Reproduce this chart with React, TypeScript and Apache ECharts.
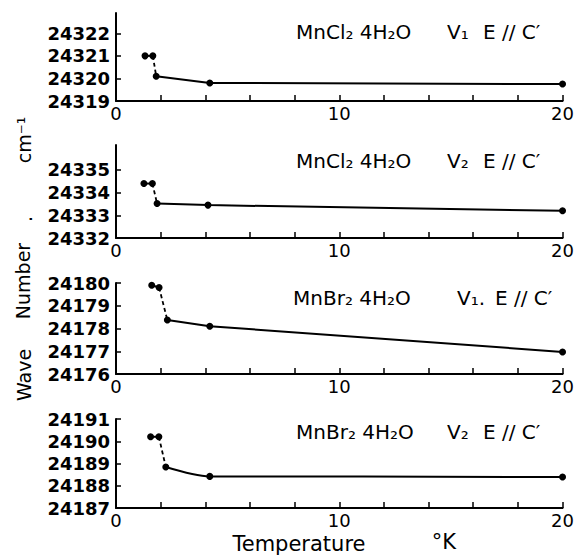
import React, { useEffect, useRef } from "react";
import * as echarts from "echarts";

// Temperatures (°K) and wave numbers (cm⁻¹) for each panel
const temps1 = [1.3, 1.65, 1.8, 4.2, 20];
const wave1 = [24321.0, 24321.0, 24320.1, 24319.8, 24319.75];
const temps2 = [1.25, 1.63, 1.84, 4.12, 20];
const wave2 = [24334.4, 24334.4, 24333.52, 24333.45, 24333.2];
const temps3 = [1.6, 1.93, 2.3, 4.2, 20];
const wave3 = [24179.9, 24179.8, 24178.37, 24178.1, 24176.97];
const temps4 = [1.55, 1.92, 2.23, 4.2, 20];
const wave4 = [24190.2, 24190.2, 24188.84, 24188.42, 24188.39];

const compounds = ["MnCl₂ 4H₂O", "MnCl₂ 4H₂O", "MnBr₂ 4H₂O", "MnBr₂ 4H₂O"];
const lines = ["V₁", "V₂", "V₁.", "V₂"];
const polarisation = "E // C′";

const yLabelValues = [
  [24319, 24320, 24321, 24322],
  [24332, 24333, 24334, 24335],
  [24176, 24177, 24178, 24179, 24180],
  [24187, 24188, 24189, 24190, 24191],
];
const yTickValues = [
  [24320, 24321, 24322],
  [24333, 24334, 24335],
  [24177, 24178, 24179, 24180],
  [24188, 24189, 24190, 24191],
];
const yRanges = [
  [24319, 24322.9],
  [24332, 24336.1],
  [24176, 24180],
  [24187, 24191],
];
const xLabelsShown = [0, 10, 20];

const FONT = "DejaVu Sans";

export default function App() {
  const ref = useRef<HTMLDivElement>(null);
  useEffect(() => {
    if (!ref.current) return;
    const chart = echarts.init(ref.current, undefined, { renderer: "svg" });
    const temps = [temps1, temps2, temps3, temps4];
    const waves = [wave1, wave2, wave3, wave4];
    const titleLayout = [
      { x: 296, y: 32, a: 151, b: 36 },
      { x: 296, y: 161, a: 151, b: 36 },
      { x: 293, y: 298, a: 164, b: 38 },
      { x: 296, y: 432, a: 151, b: 36 },
    ];
    const xAxes: any[] = [];
    const yAxes: any[] = [];
    const series: any[] = [];
    const graphics: any[] = [];
    for (let i = 0; i < 4; i++) {
      xAxes.push({
        type: "value",
        gridIndex: i,
        min: 0,
        max: 20,
        interval: 2,
        axisLine: { show: true, onZero: false, lineStyle: { color: "#000", width: 2 } },
        axisTick: { show: true, inside: true, length: 6, lineStyle: { color: "#000", width: 1.5 } },
        splitLine: { show: false },
        axisLabel: {
          color: "#000",
          fontFamily: FONT,
          fontSize: 18,
          margin: 3,
          formatter: (v: number) => (xLabelsShown.includes(v) ? String(v) : ""),
        },
      });
      yAxes.push({
        type: "value",
        gridIndex: i,
        min: yRanges[i][0],
        max: yRanges[i][1],
        axisLine: { show: true, lineStyle: { color: "#000", width: 2 } },
        axisTick: {
          show: true,
          inside: true,
          length: 5,
          customValues: yTickValues[i],
          lineStyle: { color: "#000", width: 1.5 },
        },
        splitLine: { show: false },
        axisLabel: {
          color: "#000",
          fontFamily: FONT,
          fontWeight: "bold",
          fontSize: 18,
          margin: 6,
          customValues: yLabelValues[i],
          formatter: (v: number) => String(v),
        },
      });
      const t = temps[i];
      const w = waves[i];
      const pts = t.map((x, k) => [x, w[k]]);
      const base = {
        type: "line",
        xAxisIndex: i,
        yAxisIndex: i,
        symbol: "circle",
        symbolSize: 7,
        itemStyle: { color: "#000" },
        silent: true,
      };
      series.push({ ...base, data: pts.slice(0, 2), lineStyle: { color: "#000", width: 2 } });
      series.push({
        ...base,
        data: pts.slice(1, 3),
        showSymbol: false,
        symbol: "none",
        lineStyle: { color: "#000", width: 1.8, type: [4, 3] },
      });
      series.push({
        ...base,
        data: pts.slice(2),
        smooth: i === 3 ? 0.3 : false,
        smoothMonotone: "x",
        lineStyle: { color: "#000", width: 2 },
      });
      const tl = titleLayout[i];
      graphics.push({
        type: "text",
        x: tl.x,
        y: tl.y,
        style: {
          text: `{a|${compounds[i]}}{b|${lines[i]}}{c|${polarisation}}`,
          fill: "#000",
          font: `20px "${FONT}"`,
          verticalAlign: "middle",
          rich: {
            a: { width: tl.a, fontSize: 20, fontFamily: FONT, fill: "#000" },
            b: { width: tl.b, fontSize: 20, fontFamily: FONT, fill: "#000" },
            c: { fontSize: 20, fontFamily: FONT, fill: "#000" },
          },
        },
      });
    }
    const axisNameStyle = (text: string, x: number, y: number) => ({
      type: "text",
      x,
      y,
      rotation: Math.PI / 2,
      style: {
        text,
        fill: "#000",
        font: `19px "${FONT}"`,
        align: "center",
        verticalAlign: "middle",
      },
    });
    graphics.push(axisNameStyle("Wave", 24, 375));
    graphics.push(axisNameStyle("Number", 23, 281));
    graphics.push(axisNameStyle(".", 25, 219));
    graphics.push(axisNameStyle("cm⁻¹", 24, 140));
    graphics.push({
      type: "text",
      x: 299,
      y: 544,
      style: {
        text: "Temperature",
        fill: "#000",
        font: `21px "${FONT}"`,
        align: "center",
        verticalAlign: "middle",
      },
    });
    graphics.push({
      type: "text",
      x: 444,
      y: 542,
      style: {
        text: "°K",
        fill: "#000",
        font: `21px "${FONT}"`,
        align: "center",
        verticalAlign: "middle",
      },
    });

    chart.setOption({
      animation: false,
      backgroundColor: "#fff",
      grid: [
        { left: 116, width: 448, top: 13, height: 88 },
        { left: 116, width: 448, top: 145, height: 93 },
        { left: 116, width: 448, top: 283, height: 91 },
        { left: 116, width: 448, top: 419, height: 89 },
      ],
      xAxis: xAxes,
      yAxis: yAxes,
      series,
      graphic: graphics,
    });
    return () => chart.dispose();
  }, []);
  return (
    <div
      ref={ref}
      style={{ position: "fixed", left: 0, top: 0, width: 577, height: 559, background: "#fff" }}
    />
  );
}
